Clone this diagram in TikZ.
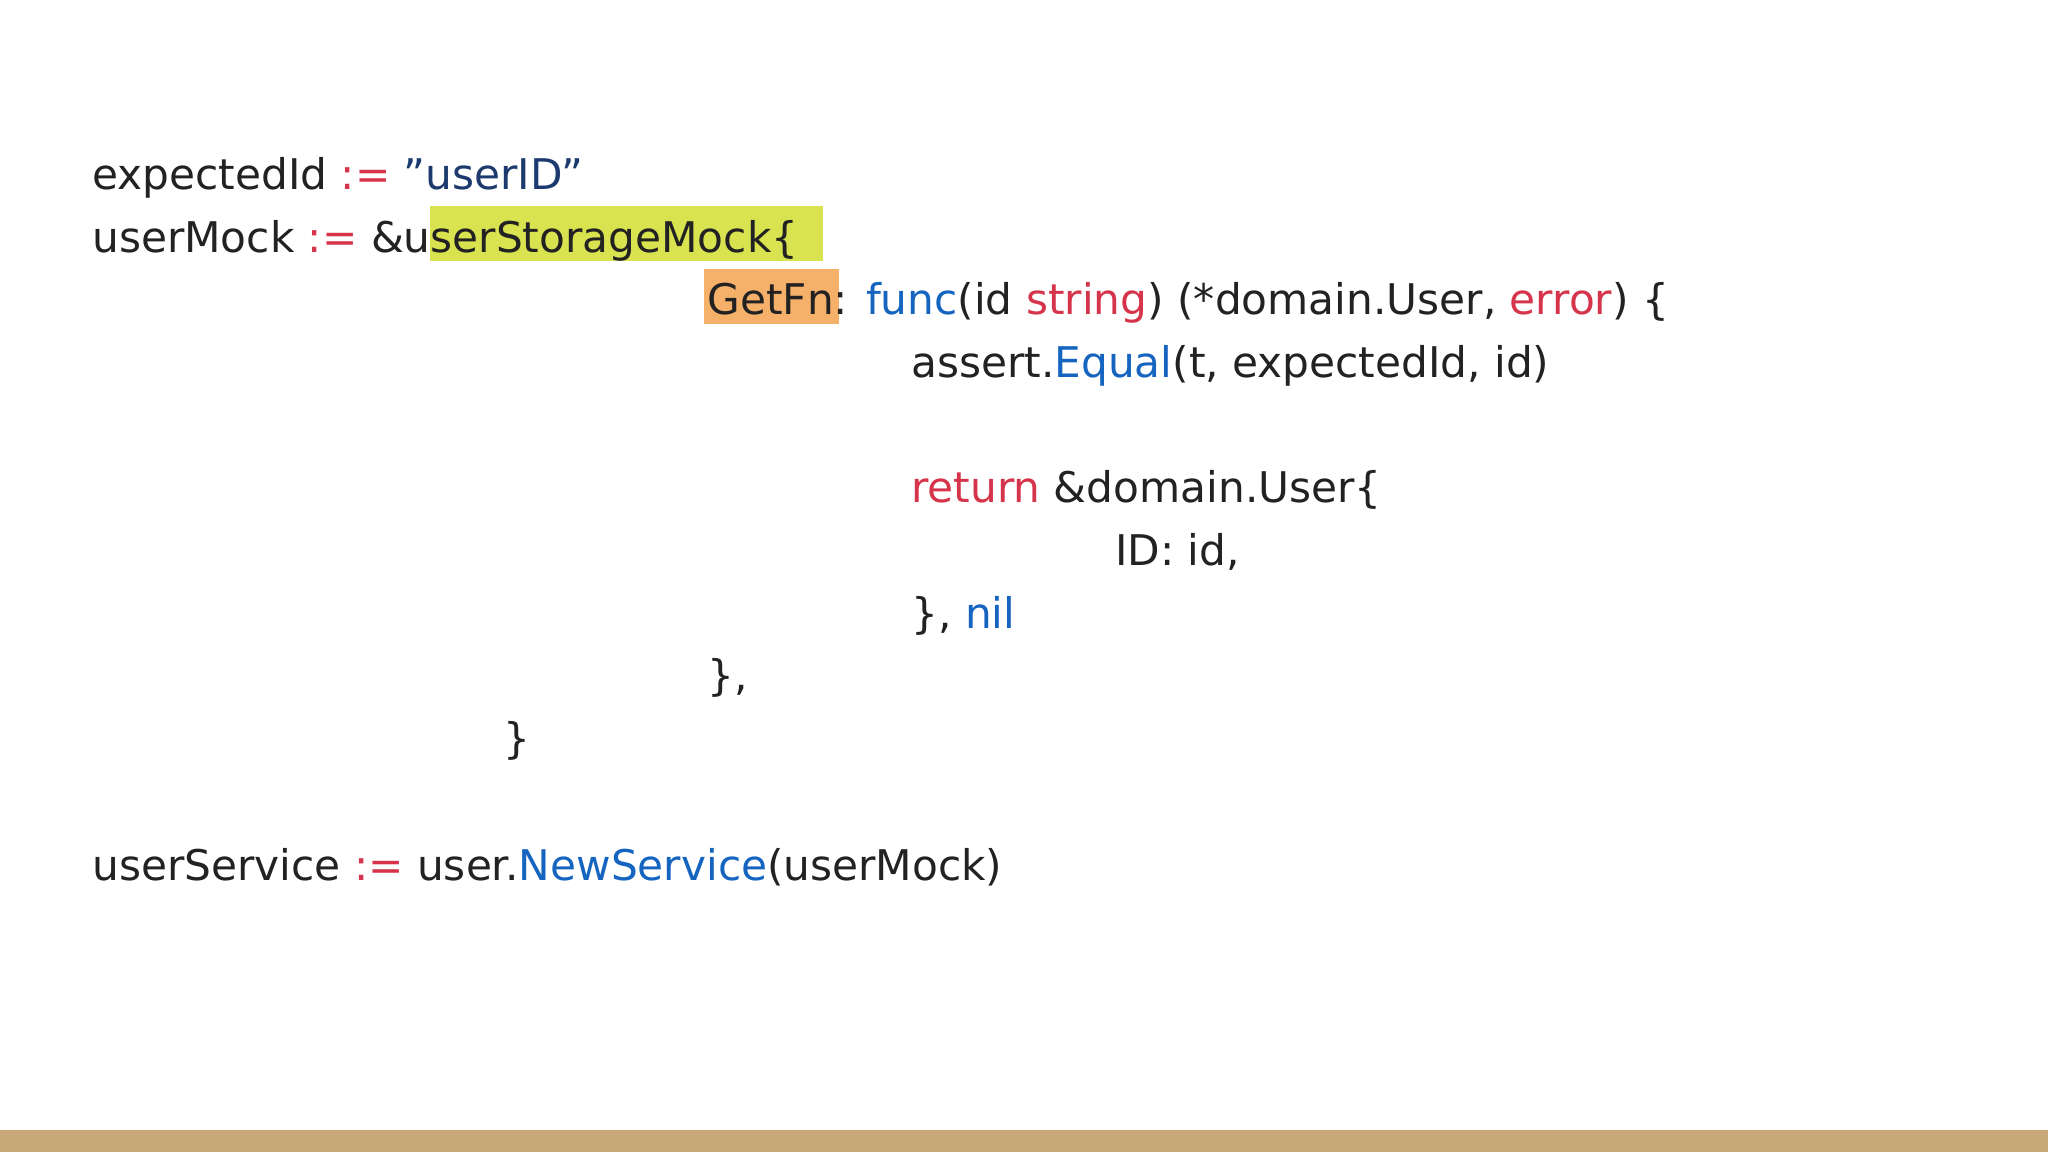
\documentclass[tikz,border=0pt]{standalone}
\usepackage{fontspec}
\setmainfont{DejaVu Sans}
\definecolor{tx}{HTML}{222222}
\definecolor{rd}{HTML}{D6344A}
\definecolor{nv}{HTML}{1C3A6E}
\definecolor{bl}{HTML}{1565C0}
\definecolor{hy}{HTML}{D9E34F}
\definecolor{ho}{HTML}{F5B06A}
\definecolor{bar}{HTML}{C8A878}
\begin{document}
\begin{tikzpicture}[x=0.01cm,y=0.01cm,
  code/.style={anchor=base west,inner sep=0pt,text=tx,font=\fontsize{9.2pt}{11pt}\selectfont}]
\useasboundingbox (0,0) rectangle (1568,882);
\fill[white] (0,0) rectangle (1568,882);
\fill[bar] (0,0) rectangle (1568,17);
\fill[hy] (329,682) rectangle (630,724);
\fill[ho] (539,634) rectangle (642,676);
\node[code] (l1) at (70,737) {expectedId \textcolor{rd}{:=} \textcolor{nv}{"userID"}};
\node[code] (l2) at (70,689) {userMock \textcolor{rd}{:=} \&userStorageMock\{};
\node[code] (l3) at (541,641) {GetFn: \textcolor{bl}{func}(id \textcolor{rd}{string}) (*domain.User, \textcolor{rd}{error}) \{};
\node[code] (l4) at (697,593) {assert.\textcolor{bl}{Equal}(t, expectedId, id)};
\node[code] (l5) at (697,497) {\textcolor{rd}{return} \&domain.User\{};
\node[code] (l6) at (853,449) {ID: id,};
\node[code] (l7) at (697,401) {\}, \textcolor{bl}{nil}};
\node[code] (l8) at (541,353) {\},};
\node[code] (l9) at (385,305) {\}};
\node[code] (l10) at (70,208) {userService \textcolor{rd}{:=} user.\textcolor{bl}{NewService}(userMock)};
\end{tikzpicture}
\end{document}
